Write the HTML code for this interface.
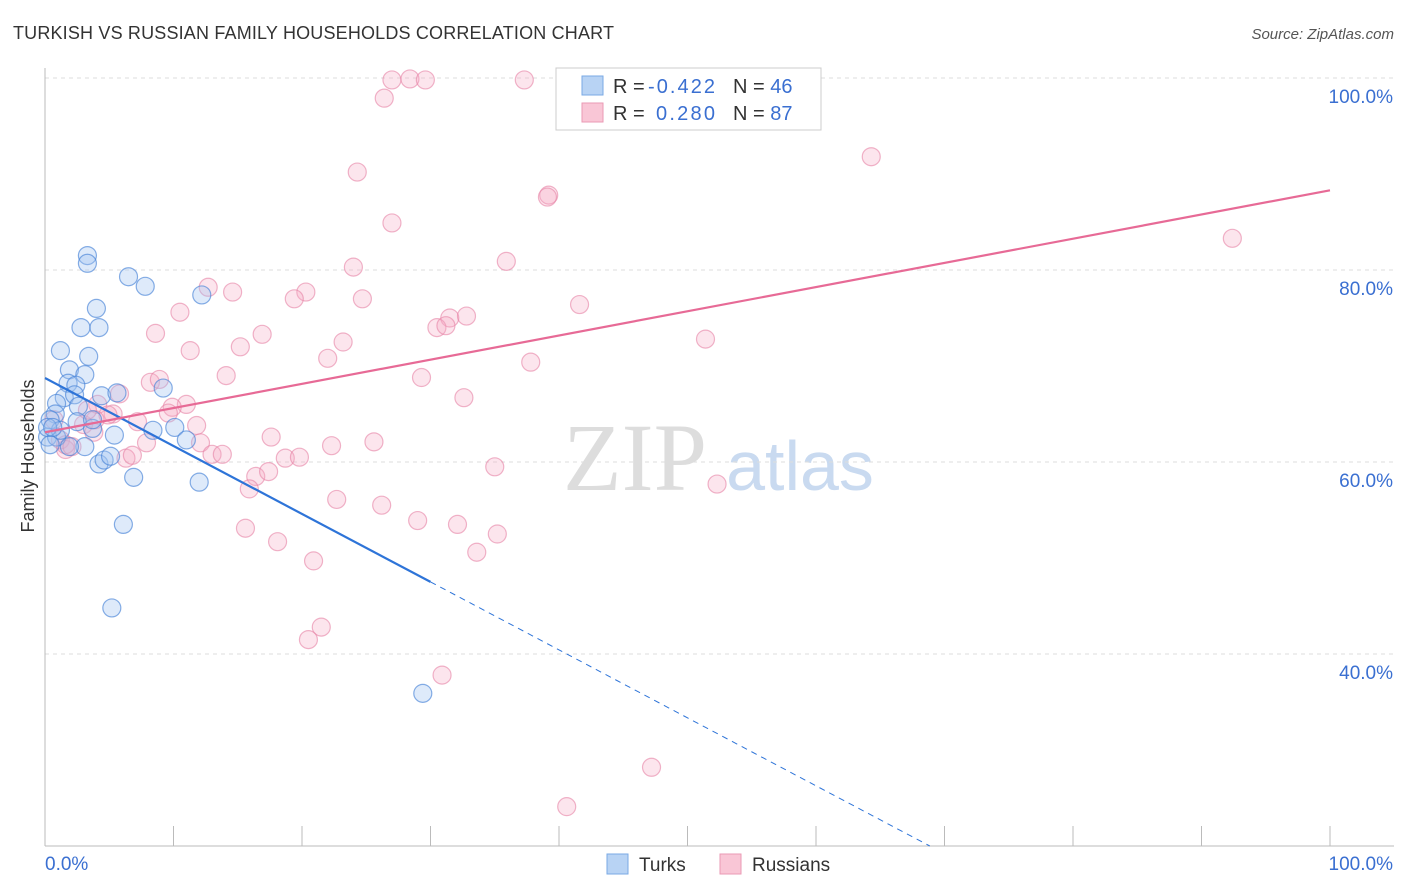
<!DOCTYPE html>
<html><head><meta charset="utf-8"><style>
body{margin:0;background:#fff;font-family:"Liberation Sans",sans-serif;}
svg{display:block}
</style></head><body>
<svg id="c" width="1406" height="892">
<text x="13" y="39" font-size="18" fill="#333" textLength="601">TURKISH VS RUSSIAN FAMILY HOUSEHOLDS CORRELATION CHART</text>
<text x="1394" y="39" font-size="15" fill="#555" font-style="italic" text-anchor="end">Source: ZipAtlas.com</text>
<g>
<text x="635" y="490" font-size="96" fill="#ddd" font-family="Liberation Serif" text-anchor="middle">ZIP</text>
<text x="800" y="490" font-size="70" fill="#c9daf0" text-anchor="middle">atlas</text>
</g>
<g id="grid"></g><g id="axes"></g><g id="pts"></g><g id="lines"></g>
<text x="34" y="456" font-size="18" fill="#333" text-anchor="middle" transform="rotate(-90 34 456)">Family Households</text>
<g>
<rect x="556" y="68" width="265" height="62" fill="#fff" stroke="#ccc"/>
<rect x="582" y="76" width="21" height="19" fill="#b8d3f4" stroke="#7aa9e4"/>
<rect x="582" y="103" width="21" height="19" fill="#f9c6d6" stroke="#ea9ab4"/>
<text x="613" y="93" font-size="20" fill="#333">R = <tspan x="648" fill="#3a6fd1" textLength="67">-0.422</tspan><tspan x="733">N = </tspan><tspan fill="#3a6fd1">46</tspan></text>
<text x="613" y="120" font-size="20" fill="#333">R = <tspan x="656" fill="#3a6fd1" textLength="59">0.280</tspan><tspan x="733">N = </tspan><tspan fill="#3a6fd1">87</tspan></text>
</g>
<g>
<rect x="607" y="854" width="21" height="20" fill="#b8d3f4" stroke="#7aa9e4"/>
<text x="639" y="871" font-size="19" fill="#333">Turks</text>
<rect x="720" y="854" width="21" height="20" fill="#f9c6d6" stroke="#ea9ab4"/>
<text x="752" y="871" font-size="19" fill="#333">Russians</text>
</g>
</svg>
<script>
const yTicks=[100,80,60,40];
const yTickLabels=["100.0%","80.0%","60.0%","40.0%"];
const xTicks=[0,10,20,30,40,50,60,70,80,90,100];
const turksX=[3.3,3.3,6.5,7.8,12.2,4.0,2.8,4.2,1.2,3.4,1.9,3.1,1.8,2.4,1.5,2.3,4.4,5.6,9.2,0.9,2.6,0.8,0.4,2.5,3.7,5.4,8.4,10.1,11.0,0.2,0.9,3.1,1.9,4.2,4.6,5.1,6.9,12.0,6.1,5.2,29.4,0.4,1.2,0.2,0.6,3.7];
const turksY=[81.5,80.7,79.3,78.3,77.4,76.0,74.0,74.0,71.6,71.0,69.6,69.1,68.2,68.0,66.7,67.0,66.9,67.2,67.7,66.1,65.8,65.0,64.4,64.2,63.5,62.8,63.3,63.6,62.3,62.6,62.6,61.6,61.6,59.8,60.2,60.6,58.4,57.9,53.5,44.8,35.9,61.8,63.3,63.6,63.6,64.4];
const rusX=[27.0,28.4,29.6,37.3,50.3,50.8,26.4,64.3,24.3,39.2,39.1,27.0,92.4,35.9,24.0,12.7,14.6,20.3,19.4,24.7,10.5,41.6,31.5,32.8,30.5,31.2,16.9,8.6,23.2,15.2,11.3,51.4,22.0,37.8,14.1,8.2,8.9,29.3,5.8,32.6,4.1,11.0,9.9,9.6,5.3,7.2,11.8,3.0,3.8,17.6,1.2,12.1,25.6,22.3,7.9,1.6,13.0,13.8,18.7,19.8,6.3,6.8,16.4,17.4,35.0,15.9,52.3,22.7,26.2,29.0,32.1,35.2,15.6,18.1,33.6,20.9,21.5,20.5,30.9,47.2,40.6,4.9,3.9,1.6,0.7,2.1,3.3];
const rusY=[99.8,99.9,99.8,99.8,99.4,99.3,97.9,91.8,90.2,87.8,87.6,84.9,83.3,80.9,80.3,78.2,77.7,77.7,77.0,77.0,75.6,76.4,75.0,75.2,74.0,74.2,73.3,73.4,72.5,72.0,71.6,72.8,70.8,70.4,69.0,68.3,68.6,68.8,67.1,66.7,66.0,66.0,65.7,65.1,65.0,64.2,63.8,63.9,63.1,62.6,62.3,62.0,62.1,61.7,62.0,61.3,60.8,60.8,60.4,60.5,60.4,60.7,58.5,59.0,59.5,57.2,57.7,56.1,55.5,53.9,53.5,52.5,53.1,51.7,50.6,49.7,42.8,41.5,37.8,28.2,24.1,64.9,64.4,61.8,64.4,61.6,65.4];
const turksTrend=[68.75,-0.708]; // intercept, slope
const rusTrend=[63.1,0.252];
const NS='http://www.w3.org/2000/svg';
const X=v=>45+v*12.85, Y=v=>846-(v-20)*9.6;
function mk(tag,attrs,parent){const e=document.createElementNS(NS,tag);for(const k in attrs)e.setAttribute(k,attrs[k]);document.getElementById(parent).appendChild(e);return e;}
yTicks.forEach((t,i)=>{
 const g=mk('line',{x1:45,x2:1394,y1:Y(t),y2:Y(t),stroke:'#ddd','stroke-dasharray':'4,4'},'grid');
 
 
 const l=mk('text',{x:1393,y:Y(t)+25,'font-size':19,fill:'#3a6fd1','text-anchor':'end'},'grid');
 l.textContent=yTickLabels[i];
 
 
});
const ax=mk('line',{x1:45,x2:45,y1:68,y2:846,stroke:'#bbb'},'axes');


const bx=mk('line',{x1:45,x2:1394,y1:846,y2:846,stroke:'#bbb'},'axes');


xTicks.forEach(t=>{const k=mk('line',{x1:X(t),x2:X(t),y1:826,y2:846,stroke:'#bbb'},'axes');
 
 });
const x0=mk('text',{x:45,y:870,'font-size':19,fill:'#3a6fd1'},'axes');x0.textContent='0.0%';


const x1=mk('text',{x:1393,y:870,'font-size':19,fill:'#3a6fd1','text-anchor':'end'},'axes');x1.textContent='100.0%';


rusX.forEach((v,i)=>{const c=mk('circle',{cx:X(v),cy:Y(rusY[i]),r:9,fill:'rgba(245,170,195,0.3)',stroke:'rgba(230,130,165,0.6)','stroke-width':1.2},'pts');
 
 });
turksX.forEach((v,i)=>{const c=mk('circle',{cx:X(v),cy:Y(turksY[i]),r:9,fill:'rgba(160,195,240,0.35)',stroke:'rgba(70,130,215,0.65)','stroke-width':1.2},'pts');
 
 });
const tf=x=>turksTrend[0]+turksTrend[1]*x, rf=x=>rusTrend[0]+rusTrend[1]*x;
const t1=mk('line',{x1:X(0),y1:Y(tf(0)),x2:X(30),y2:Y(tf(30)),stroke:'#2e74d8','stroke-width':2.2},'lines');


const xEnd=(20-turksTrend[0])/turksTrend[1];
const t2=mk('line',{x1:X(30),y1:Y(tf(30)),x2:X(xEnd),y2:Y(20),stroke:'#2e74d8','stroke-width':1,'stroke-dasharray':'6,5'},'lines');


const r1=mk('line',{x1:X(0),y1:Y(rf(0)),x2:X(100),y2:Y(rf(100)),stroke:'#e76a96','stroke-width':2.2},'lines');


</script>
</body></html>
